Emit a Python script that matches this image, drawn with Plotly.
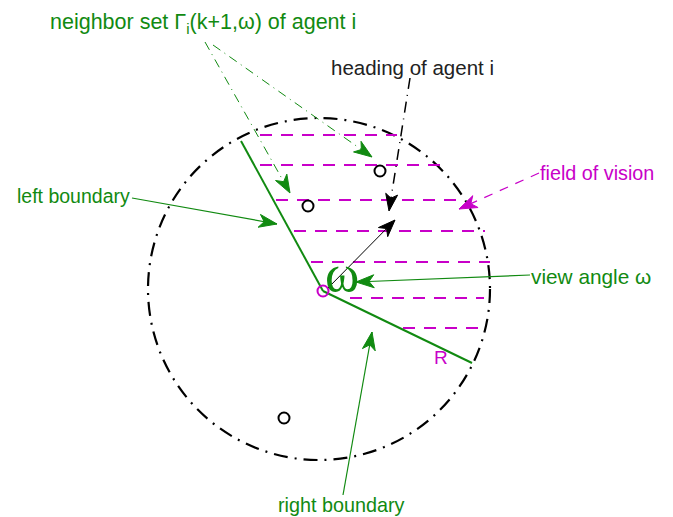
import plotly.graph_objects as go

# ---- diagram data (pixel space of the original drawing) ----
circle_center = [319, 289]
circle_radius = 171
agent_pos = [323, 291]
left_boundary_end = [241, 141]
right_boundary_end = [472, 363]
neighbor_x = [380, 308, 284]
neighbor_y = [171, 206, 418]
hatch_y = [135, 165, 200, 231, 262, 298, 328]
hatch_x_start = [260, 260, 276, 294, 311, 350, 403]
hatch_x_end = [397, 440, 463, 485, 490, 484, 485]
heading_from = [327, 289]
heading_to = [395, 220]

labels = {
    "neighbor": "neighbor set Γ<sub>i</sub>(k+1,ω) of agent i",
    "heading": "heading of agent i",
    "left": "left boundary",
    "fov": "field of vision",
    "view": "view angle ω",
    "right": "right boundary",
    "R": "R",
    "omega": "ω",
}
label_pos = {
    "neighbor": [48, 23], "heading": [329, 67], "left": [15, 196],
    "fov": [538, 173], "view": [529, 276], "right": [276, 505],
    "R": [441, 357], "omega": [342, 273],
}
# callout lines: (start, tip)
callouts = {
    "neighbor1": ([205, 42], [290, 193]),
    "neighbor2": ([213, 45], [372, 157]),
    "heading": ([410, 78], [389, 211]),
    "left": ([132, 198], [277, 224]),
    "right": ([343, 495], [372, 332]),
    "view": ([530, 275], [356, 282]),
    "fov": ([539, 173], [459, 209]),
}

GREEN = "#118a11"
MAGENTA = "#c800c8"
BLACK = "#000000"
SANS = "Liberation Sans, Arial, sans-serif"

fig = go.Figure()

# field-of-vision hatching
for y, xs, xe in zip(hatch_y, hatch_x_start, hatch_x_end):
    fig.add_trace(go.Scatter(x=[xs, xe], y=[y, y], mode="lines",
                             line=dict(color=MAGENTA, width=2.2, dash="12px,9px"),
                             hoverinfo="skip", showlegend=False))

# boundaries
for end in (left_boundary_end, right_boundary_end):
    fig.add_trace(go.Scatter(x=[agent_pos[0], end[0]], y=[agent_pos[1], end[1]],
                             mode="lines", line=dict(color=GREEN, width=2),
                             hoverinfo="skip", showlegend=False))

# callout line styles
dash_styles = {
    "neighbor1": (GREEN, 1, "9px,5px,1px,5px"),
    "neighbor2": (GREEN, 1, "9px,5px,1px,5px"),
    "heading": (BLACK, 1.5, "11px,6px,1px,6px"),
    "fov": (MAGENTA, 1.2, "9px,8px"),
    "left": (GREEN, 1.2, None),
    "right": (GREEN, 1.2, None),
    "view": (GREEN, 1.2, None),
}


def head(tip, start, color, L=18, W=6.5, notch=5):
    dx, dy = tip[0] - start[0], tip[1] - start[1]
    n = (dx * dx + dy * dy) ** 0.5
    ux, uy = dx / n, dy / n
    px, py = -uy, ux
    xs = [tip[0], tip[0] - L * ux + W * px, tip[0] - (L - notch) * ux,
          tip[0] - L * ux - W * px, tip[0]]
    ys = [tip[1], tip[1] - L * uy + W * py, tip[1] - (L - notch) * uy,
          tip[1] - L * uy - W * py, tip[1]]
    fig.add_trace(go.Scatter(x=xs, y=ys, mode="lines", fill="toself", fillcolor=color,
                             line=dict(color=color, width=1),
                             hoverinfo="skip", showlegend=False))


for key, (col, w, d) in dash_styles.items():
    s, t = callouts[key]
    line = dict(color=col, width=w)
    if d:
        line["dash"] = d
    fig.add_trace(go.Scatter(x=[s[0], t[0]], y=[s[1], t[1]], mode="lines", line=line,
                             hoverinfo="skip", showlegend=False))
    if col == BLACK:
        head(t, s, col, L=17, W=6, notch=4)
    else:
        head(t, s, col)

# heading arrow
fig.add_trace(go.Scatter(x=[heading_from[0], heading_to[0]], y=[heading_from[1], heading_to[1]],
                         mode="lines", line=dict(color=BLACK, width=1),
                         hoverinfo="skip", showlegend=False))
head(heading_to, heading_from, BLACK, L=17, W=6.5, notch=5)

# neighbors
fig.add_trace(go.Scatter(x=neighbor_x, y=neighbor_y, mode="markers",
                         marker=dict(symbol="circle-open", size=11, color=BLACK,
                                     line=dict(width=2, color=BLACK)),
                         hoverinfo="skip", showlegend=False))
# agent i
fig.add_trace(go.Scatter(x=[agent_pos[0]], y=[agent_pos[1]], mode="markers",
                         marker=dict(symbol="circle-open", size=11, color=MAGENTA,
                                     line=dict(width=2, color=MAGENTA)),
                         hoverinfo="skip", showlegend=False))

# sensing circle
fig.add_shape(type="circle", xref="x", yref="y",
              x0=circle_center[0] - circle_radius, x1=circle_center[0] + circle_radius,
              y0=circle_center[1] - circle_radius, y1=circle_center[1] + circle_radius,
              line=dict(color=BLACK, width=2.2, dash="14px,7px,2px,7px"), layer="below")

text_specs = {
    "neighbor": ("#118a11", 21.5, SANS, "left"),
    "heading": ("#222222", 20.5, SANS, "left"),
    "left": (GREEN, 19.5, SANS, "left"),
    "fov": (MAGENTA, 19.8, SANS, "left"),
    "view": (GREEN, 20.8, SANS, "left"),
    "right": (GREEN, 19.8, SANS, "left"),
    "R": (MAGENTA, 19, SANS, "center"),
    "omega": (GREEN, 52, "Liberation Serif, Times New Roman, serif", "center"),
}
for key, (col, size, fam, xa) in text_specs.items():
    x, y = label_pos[key]
    fig.add_annotation(x=x, y=y, xref="x", yref="y", text=labels[key], showarrow=False,
                       xanchor=xa, yanchor="middle",
                       font=dict(color=col, size=size, family=fam))

# the page body has an 8px margin, so the axes are offset by 8px to land on the drawing
fig.update_layout(
    width=673, height=517, margin=dict(l=0, r=0, t=0, b=0),
    paper_bgcolor="white", plot_bgcolor="white",
    xaxis=dict(range=[8, 681], visible=False, showgrid=False, zeroline=False),
    yaxis=dict(range=[525, 8], visible=False, showgrid=False, zeroline=False),
    showlegend=False,
)
fig.write_html("out.html")
